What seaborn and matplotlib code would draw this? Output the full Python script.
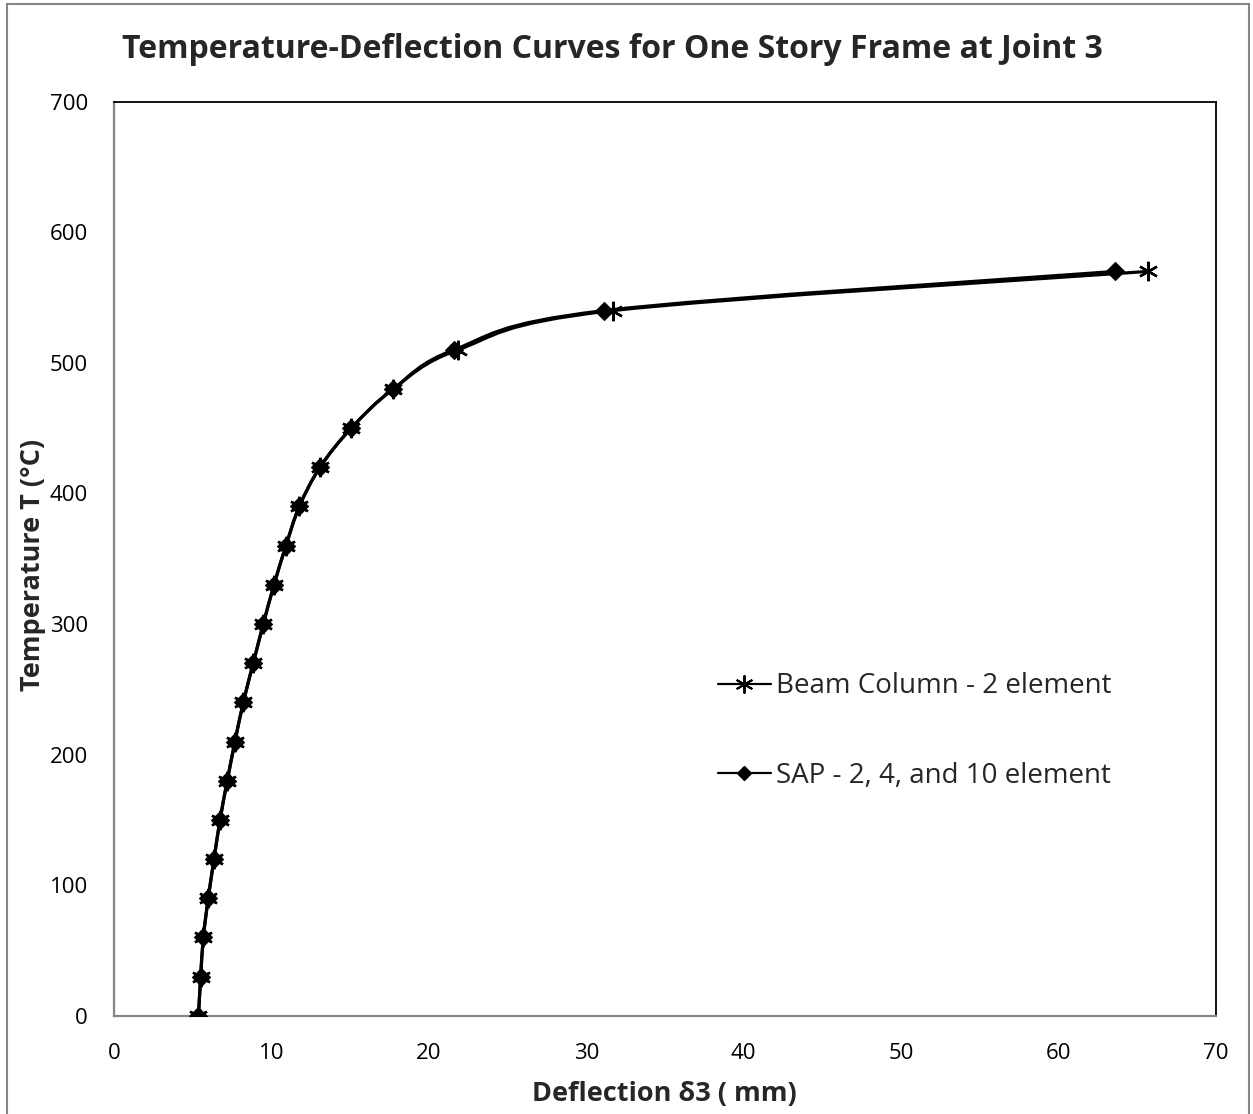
import numpy as np
import pandas as pd
import matplotlib
matplotlib.use("Agg")
import matplotlib.pyplot as plt
import seaborn as sns
from matplotlib.path import Path
from matplotlib.patches import PathPatch, Rectangle
from matplotlib.lines import Line2D

# ---- data ----
temperature = [0, 30, 60, 90, 120, 150, 180, 210, 240, 270, 300, 330, 360,
               390, 420, 450, 480, 510, 540, 570]
beam_column = [5.35, 5.49, 5.66, 5.97, 6.34, 6.72, 7.18, 7.67, 8.20, 8.83,
               9.47, 10.15, 10.91, 11.76, 13.07, 15.06, 17.73, 21.85, 31.68, 65.68]
sap = [5.35, 5.49, 5.66, 5.97, 6.34, 6.72, 7.18, 7.67, 8.20, 8.83,
       9.47, 10.15, 10.91, 11.76, 13.07, 15.06, 17.73, 21.59, 31.12, 63.6]
series_names = ["Beam Column - 2 element", "SAP - 2, 4, and 10 element"]
x_ticks = [0, 10, 20, 30, 40, 50, 60, 70]
y_ticks = [0, 100, 200, 300, 400, 500, 600, 700]

title = "Temperature-Deflection Curves for One Story Frame at Joint 3"
xlabel = "Deflection δ3 ( mm)"
ylabel = "Temperature T (°C)"

sns.set_theme(style="white")
plt.rcParams['font.family'] = ['Open Sans', 'DejaVu Sans']

W, H = 1253, 1114
fig = plt.figure(figsize=(W / 100, H / 100), dpi=100)
AX_L, AX_R, AX_T, AX_B = 114.3, 1215.7, 101.7, 1015.7
ax = fig.add_axes([AX_L / W, 1 - AX_B / H, (AX_R - AX_L) / W, (AX_B - AX_T) / H])


def ax_coords(px, py):
    return (px - AX_L) / (AX_R - AX_L), (AX_B - py) / (AX_B - AX_T)


df = pd.DataFrame({
    "x": beam_column + sap,
    "T": temperature + temperature,
    "series": [series_names[0]] * len(temperature) + [series_names[1]] * len(temperature),
})

asterisk = (6, 2, 0)
LW = 2.3


def smooth_path(xs, ys):
    pts = np.column_stack([xs, ys])
    n = len(pts)
    verts = [pts[0]]
    codes = [Path.MOVETO]
    for i in range(n - 1):
        p0 = pts[i - 1] if i > 0 else pts[i]
        p1 = pts[i]
        p2 = pts[i + 1]
        p3 = pts[i + 2] if i + 2 < n else pts[i + 1]
        c1 = p1 + (p2 - p0) / 6.0
        c2 = p2 - (p3 - p1) / 6.0
        verts += [c1, c2, p2]
        codes += [Path.CURVE4] * 3
    return Path(verts, codes)


for name, xs in zip(series_names, [beam_column, sap]):
    ax.add_patch(PathPatch(smooth_path(xs, temperature), facecolor="none",
                           edgecolor="black", lw=LW, transform=ax.transData,
                           zorder=2))

sub = df[df.series == series_names[0]]
sns.lineplot(data=sub, x="x", y="T", sort=False, estimator=None, ax=ax,
             linestyle="none", marker=asterisk, markersize=14,
             markeredgewidth=1.7, markeredgecolor="black", color="black",
             zorder=3, legend=False)
sub = df[df.series == series_names[1]]
sns.lineplot(data=sub, x="x", y="T", sort=False, estimator=None, ax=ax,
             linestyle="none", marker="D", markersize=9.5,
             markeredgewidth=0.8, markeredgecolor="black", color="black",
             zorder=4, legend=False)

ax.set_xlim(0, 70)
ax.set_ylim(0, 700)
ax.set_xticks(x_ticks)
ax.set_yticks(y_ticks)
ax.set_xticklabels([str(v) for v in x_ticks])
ax.set_yticklabels([str(v) for v in y_ticks])
ax.tick_params(axis="both", length=0, labelsize=16, colors="black")
ax.tick_params(axis="x", pad=20)
ax.tick_params(axis="y", pad=19)

for s in ["left", "bottom"]:
    ax.spines[s].set_color("#868686")
    ax.spines[s].set_linewidth(1.6)
for s in ["top", "right"]:
    ax.spines[s].set_color("black")
    ax.spines[s].set_linewidth(1.3)

ax.set_xlabel(xlabel, fontsize=19.5, fontweight="bold")
ax.set_ylabel(ylabel, fontsize=19.5, fontweight="bold")
ax.xaxis.set_label_coords(*ax_coords(664, 1094))
ax.yaxis.set_label_coords(*ax_coords(33, 565))
ax.xaxis.label.set_va("center")
ax.yaxis.label.set_va("center")

fig.text(612 / W, 1 - 50 / H, title, ha="center", va="center",
         fontsize=23, fontweight="bold")

handles = [
    Line2D([], [], color="black", lw=1.6, marker=asterisk, markersize=13,
           markeredgewidth=1.4),
    Line2D([], [], color="black", lw=1.6, marker="D", markersize=7.5),
]
ax.legend(handles, series_names, loc="center left",
          bbox_to_anchor=ax_coords(718, 731),
          frameon=False, fontsize=20, labelspacing=2.2, handlelength=1.9,
          handletextpad=0.2, borderaxespad=0, borderpad=0)

fig.patches.append(Rectangle((7 / W, -0.01), (1249 - 7) / W, 1.01 - 4 / H,
                             transform=fig.transFigure, fill=False,
                             edgecolor="#868686", lw=1.5))

fig.savefig("out.png", dpi=100, facecolor="white")
